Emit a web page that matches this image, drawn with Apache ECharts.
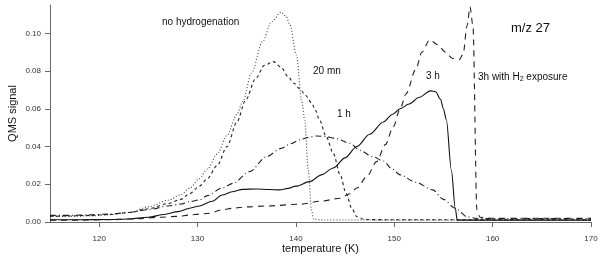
<!DOCTYPE html>
<html>
<head>
<meta charset="utf-8">
<script src="https://cdn.jsdelivr.net/npm/echarts@6/dist/echarts.min.js"></script>
<style>
html,body{margin:0;padding:0;background:#fff;}
#chart{width:600px;height:257px;}
</style>
</head>
<body>
<div id="chart"></div>
<script>
// ---- data ----
var xTicks = [120, 130, 140, 150, 160, 170];
var yTicks = [0, 0.02, 0.04, 0.06, 0.08, 0.10];

var tempNoHydro = [115, 117, 119, 121, 123, 125, 127, 128.3, 129.2, 130.2, 131, 132, 133, 134, 134.6, 135.5, 136.6, 137.5, 138.5, 139.0, 139.4, 140.05, 140.6, 140.9, 141.25, 141.6, 141.8, 142.5, 150, 160, 170];
var sigNoHydro  = [0.003, 0.003, 0.0032, 0.0038, 0.005, 0.008, 0.0115, 0.0145, 0.018, 0.023, 0.028, 0.036, 0.046, 0.057, 0.064, 0.079, 0.0955, 0.106, 0.1112, 0.109, 0.1044, 0.0885, 0.0638, 0.054, 0.028, 0.006, 0.0015, 0.0011, 0.001, 0.001, 0.001];

var temp20mn = [115, 117, 119, 121, 123, 125, 127, 128.3, 129.2, 130.2, 131, 132, 133, 134, 134.9, 135.9, 136.8, 137.7, 138.5, 139.2, 139.8, 140.4, 141, 141.6, 142.0, 142.4, 143.1, 143.8, 144.5, 145.1, 145.7, 146.2, 147, 150, 160, 170];
var sig20mn  = [0.003, 0.0032, 0.0035, 0.004, 0.005, 0.007, 0.0098, 0.012, 0.015, 0.019, 0.023, 0.030, 0.040, 0.053, 0.0647, 0.076, 0.083, 0.085, 0.082, 0.077, 0.0735, 0.0705, 0.067, 0.063, 0.059, 0.054, 0.045, 0.0364, 0.025, 0.0152, 0.007, 0.0028, 0.0013, 0.0012, 0.0012, 0.0012];

var temp1h = [115, 117, 119, 121, 123, 125, 127, 128.3, 129.2, 130.2, 131, 132.5, 133.6, 135.3, 137, 138.5, 139.5, 140.4, 141.2, 142.1, 143, 144, 145.5, 146.5, 147.8, 148.9, 149.8, 150.6, 152.2, 153.9, 155, 156.2, 157.4, 158.4, 160, 170];
var sig1h  = [0.0035, 0.0035, 0.0038, 0.0042, 0.005, 0.0065, 0.0085, 0.0095, 0.0108, 0.0117, 0.014, 0.018, 0.0205, 0.0267, 0.0346, 0.039, 0.0415, 0.0435, 0.0448, 0.0456, 0.0453, 0.0443, 0.0417, 0.038, 0.0346, 0.0323, 0.028, 0.025, 0.021, 0.017, 0.012, 0.0073, 0.0028, 0.0018, 0.0018, 0.0018];

var temp3h = [115, 118, 121, 123, 125, 126.6, 128, 129.2, 130.2, 131.5, 132.5, 133.5, 134.6, 136, 137.3, 138.3, 139.2, 140, 141.4, 142.6, 143.8, 145, 146.2, 147.5, 148.9, 149.8, 150.6, 151.5, 152.5, 153.7, 154.2, 154.7, 155.0, 155.3, 155.8, 156.2, 156.4, 158, 170];
var sig3h  = [0.0012, 0.0012, 0.0013, 0.0016, 0.0025, 0.004, 0.0055, 0.0073, 0.0085, 0.011, 0.0143, 0.016, 0.0173, 0.0175, 0.0172, 0.017, 0.0178, 0.019, 0.0214, 0.025, 0.0286, 0.034, 0.040, 0.0465, 0.053, 0.057, 0.060, 0.0625, 0.066, 0.0695, 0.069, 0.065, 0.060, 0.054, 0.0276, 0.0074, 0.001, 0.001, 0.001];

var temp3hH2 = [115, 118, 121, 124, 126, 128, 129.2, 130.2, 131.2, 132.5, 133.6, 135, 137, 140.4, 142.5, 144.5, 145.5, 146.2, 147.2, 148.2, 149.1, 149.9, 150.6, 151.2, 152.2, 152.8, 153.6, 154.4, 155.2, 155.9, 156.6, 157.0, 157.4, 157.7, 158.0, 158.4, 158.7, 160, 170];
var sig3hH2  = [0.001, 0.001, 0.0012, 0.0018, 0.0025, 0.003, 0.0037, 0.0042, 0.0046, 0.0065, 0.0073, 0.008, 0.0085, 0.0094, 0.011, 0.0126, 0.015, 0.018, 0.024, 0.032, 0.041, 0.0505, 0.060, 0.068, 0.081, 0.090, 0.0965, 0.094, 0.090, 0.0868, 0.086, 0.089, 0.104, 0.114, 0.104, 0.0064, 0.0025, 0.002, 0.002];

function pairs(xs, ys) { return xs.map(function (x, i) { return [x, ys[i]]; }); }

var FONT = '"Liberation Sans", Arial, sans-serif';
var AXIS_COLOR = '#6a6a6a';

var chart = echarts.init(document.getElementById('chart'), null, {renderer: 'canvas'});

function lineSeries(name, xs, ys, dash, color) {
  return {
    name: name, type: 'line', data: pairs(xs, ys),
    showSymbol: false, symbol: 'none',
    smooth: 0.3, smoothMonotone: 'x',
    lineStyle: {color: color, width: 1.1, type: dash},
    z: 3
  };
}

chart.setOption({
  animation: false,
  backgroundColor: '#fff',
  grid: {left: 50, right: 9, top: 5, bottom: 35, containLabel: false, outerBoundsMode: 'none'},
  xAxis: {
    type: 'value', min: 115, max: 170,
    name: 'temperature (K)', nameLocation: 'middle', nameGap: 21, nameMoveOverlap: false,
    nameTextStyle: {fontFamily: FONT, fontSize: 11, color: '#111'},
    axisLine: {show: true, lineStyle: {color: AXIS_COLOR, width: 1}},
    axisTick: {show: true, length: 5, customValues: xTicks, lineStyle: {color: AXIS_COLOR}},
    axisLabel: {customValues: xTicks, margin: 13, fontFamily: FONT, fontSize: 8, color: '#333'},
    splitLine: {show: false}
  },
  yAxis: {
    type: 'value', min: 0, max: 0.115,
    name: 'QMS signal', nameLocation: 'middle', nameGap: 32, nameRotate: 90, nameMoveOverlap: false,
    nameTextStyle: {fontFamily: FONT, fontSize: 11, color: '#111'},
    axisLine: {show: true, lineStyle: {color: AXIS_COLOR, width: 1}},
    axisTick: {show: true, length: 5, customValues: yTicks, lineStyle: {color: AXIS_COLOR}},
    axisLabel: {customValues: yTicks, margin: 9, fontFamily: FONT, fontSize: 8, color: '#333',
      formatter: function (v) { return v.toFixed(2); }},
    splitLine: {show: false}
  },
  series: [
    lineSeries('no hydrogenation', tempNoHydro, sigNoHydro, [1, 2], '#444'),
    lineSeries('20 mn', temp20mn, sig20mn, [3, 3], '#222'),
    lineSeries('1 h', temp1h, sig1h, [6, 3, 1, 3], '#222'),
    lineSeries('3 h', temp3h, sig3h, 'solid', '#111'),
    lineSeries('3h with H2 exposure', temp3hH2, sig3hH2, [6, 5], '#222')
  ],
  graphic: [
    {type: 'text', x: 162, y: 22, style: {text: 'no hydrogenation', fontFamily: FONT, fontSize: 10, fill: '#111', verticalAlign: 'middle'}},
    {type: 'text', x: 313, y: 71, style: {text: '20 mn', fontFamily: FONT, fontSize: 10, fill: '#111', verticalAlign: 'middle'}},
    {type: 'text', x: 337, y: 114, style: {text: '1 h', fontFamily: FONT, fontSize: 10, fill: '#111', verticalAlign: 'middle'}},
    {type: 'text', x: 426, y: 76, style: {text: '3 h', fontFamily: FONT, fontSize: 10, fill: '#111', verticalAlign: 'middle'}},
    {type: 'text', x: 478, y: 77, style: {
      text: '{b|3h with H}{s|2}{b| exposure}', fontFamily: FONT, fill: '#111', verticalAlign: 'middle',
      rich: {
        b: {fontFamily: FONT, fontSize: 10, fill: '#111', lineHeight: 12},
        s: {fontFamily: FONT, fontSize: 7, fill: '#111', lineHeight: 12, padding: [5, 0, 0, 0]}
      }}},
    {type: 'text', x: 511, y: 28, style: {text: 'm/z 27', fontFamily: FONT, fontSize: 13, fill: '#111', verticalAlign: 'middle'}}
  ]
});
</script>
</body>
</html>
